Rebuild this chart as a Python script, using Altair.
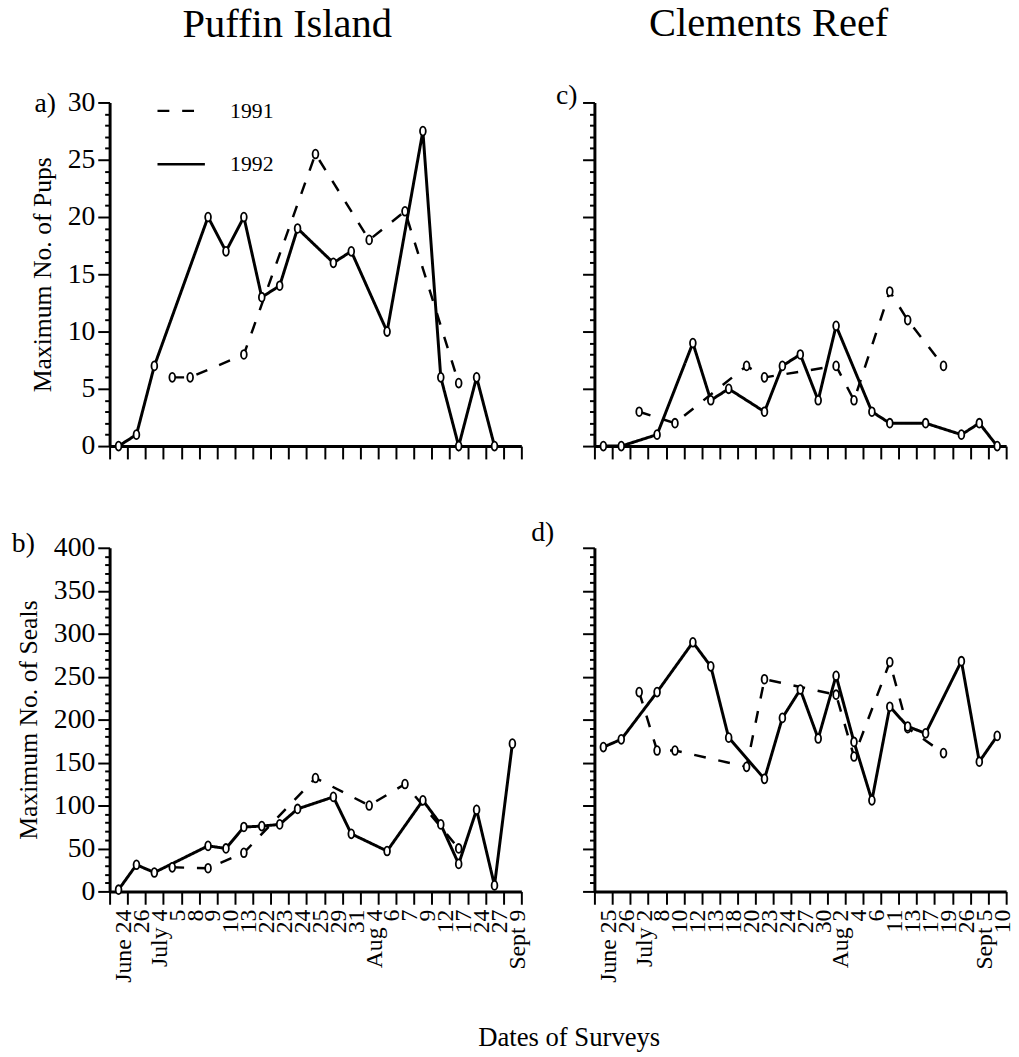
import altair as alt
import pandas as pd

SERIF = "Liberation Serif"

# Survey dates used as x tick labels, one list per site
puffin_dates = ["June 24", "26", "July 4", "5", "8", "9", "10", "13", "22", "23", "24",
                "25", "29", "31", "Aug 4", "6", "7", "9", "12", "17", "24", "27", "Sept 9"]
clements_dates = ["June 25", "26", "July 2", "8", "10", "12", "13", "18", "20", "23", "24",
                  "27", "30", "Aug 2", "4", "6", "11", "13", "17", "19", "26", "Sept 5", "10"]

# Puffin Island, maximum number of pups (survey index -> count)
puffin_pups_1991_idx = [3, 4, 7, 11, 14, 16, 19]
puffin_pups_1991 = [6, 6, 8, 25.5, 18, 20.5, 5.5]
puffin_pups_1992_idx = [0, 1, 2, 5, 6, 7, 8, 9, 10, 12, 13, 15, 17, 18, 19, 20, 21]
puffin_pups_1992 = [0, 1, 7, 20, 17, 20, 13, 14, 19, 16, 17, 10, 27.5, 6, 0, 6, 0]

# Puffin Island, maximum number of seals
puffin_seals_1991_idx = [3, 5, 7, 11, 14, 16, 19]
puffin_seals_1991 = [28, 27, 45, 132, 100, 125, 50]
puffin_seals_1992_idx = [0, 1, 2, 5, 6, 7, 8, 9, 10, 12, 13, 15, 17, 18, 19, 20, 21, 22]
puffin_seals_1992 = [2, 31, 22, 53, 50, 75, 76, 78, 96, 110, 67, 47, 106, 78, 32, 95, 7, 172]

# Clements Reef, maximum number of pups
clements_pups_1991_idx = [2, 4, 8, 9, 13, 14, 16, 17, 19]
clements_pups_1991 = [3, 2, 7, 6, 7, 4, 13.5, 11, 7]
clements_pups_1992_idx = [0, 1, 3, 5, 6, 7, 9, 10, 11, 12, 13, 15, 16, 18, 20, 21, 22]
clements_pups_1992 = [0, 0, 1, 9, 4, 5, 3, 7, 8, 4, 10.5, 3, 2, 2, 1, 2, 0]

# Clements Reef, maximum number of seals
clements_seals_1991_idx = [2, 3, 4, 8, 9, 13, 14, 16, 17, 19]
clements_seals_1991 = [232, 164, 164, 145, 247, 229, 157, 267, 190, 161]
clements_seals_1992_idx = [0, 1, 3, 5, 6, 7, 9, 10, 11, 12, 13, 14, 15, 16, 17, 18, 20, 21, 22]
clements_seals_1992 = [168, 177, 232, 290, 262, 179, 131, 202, 235, 178, 251, 174, 106, 215,
                       192, 184, 268, 151, 181]

years = ["1991", "1992"]

# vertical oval marker, like a small hand-drawn "0"
OVAL = "M0,-1 A0.65,1 0 1,1 0,1 A0.65,1 0 1,1 0,-1 Z"

W, H = 417, 348


def frame(idx91, v91, idx92, v92):
    rows = [{"i": i, "v": v, "year": "1991"} for i, v in zip(idx91, v91)]
    rows += [{"i": i, "v": v, "year": "1992"} for i, v in zip(idx92, v92)]
    return pd.DataFrame(rows)


def panel(df, dates, ymax, major, minor, letter, lx, ly,
          ytitle=None, xlabels=False, ylabels=True, legend=False):
    label_expr = "[" + ",".join("'%s'" % d for d in dates) + "][datum.value]"
    x = alt.X(
        "i:O",
        scale=alt.Scale(type="band", domain=list(range(len(dates))),
                        paddingInner=0, paddingOuter=0),
        axis=alt.Axis(title=None, labels=xlabels, labelExpr=label_expr,
                      labelAngle=-90, labelAlign="right", labelBaseline="middle",
                      tickBand="extent", tickSize=13, tickWidth=2,
                      domainWidth=3, labelPadding=5, labelOffset=5,
                      labelFont=SERIF, labelFontSize=24, grid=False),
    )
    y = alt.Y(
        "v:Q",
        scale=alt.Scale(domain=[0, ymax], nice=False, zero=True),
        axis=alt.Axis(
            title=ytitle, values=list(range(0, ymax + 1, minor)),
            labels=ylabels,
            labelExpr="datum.value %% %d === 0 ? datum.label : ''" % major,
            labelOverlap=False, labelFlush=False,
            tickSize={"condition": {"test": "datum.value %% %d === 0" % major, "value": 12},
                      "value": 5},
            tickWidth=2, domainWidth=3, labelPadding=3,
            labelFont=SERIF, labelFontSize=28,
            titleFont=SERIF, titleFontSize=26, titlePadding=12, grid=False,
        ),
    )
    if legend:
        leg = alt.Legend(orient="none", legendX=47, legendY=-17, title=None,
                         symbolType="stroke", symbolSize=2304, symbolStrokeWidth=2.5,
                         symbolStrokeColor="black", labelFont=SERIF, labelFontSize=22,
                         labelColor="black", labelOffset=24, rowPadding=17, padding=0)
    else:
        leg = None
    base = alt.Chart(df)
    lines = base.mark_line(color="black").encode(
        x=x, y=y,
        strokeDash=alt.StrokeDash("year:N",
                                  scale=alt.Scale(domain=years, range=[[12, 13], [1, 0]]),
                                  legend=leg),
        strokeWidth=alt.StrokeWidth("year:N",
                                    scale=alt.Scale(domain=years, range=[2.5, 3]),
                                    legend=None),
        order=alt.Order("i:Q"),
    )
    points = base.mark_point(shape=OVAL, size=81, filled=True, fill="white",
                             stroke="black", strokeWidth=1.8, opacity=1).encode(
        x=x, y=y, detail="year:N")
    tag = alt.Chart(pd.DataFrame({"t": [letter]})).mark_text(
        font=SERIF, fontSize=28, align="left", baseline="alphabetic", color="black"
    ).encode(x=alt.value(lx), y=alt.value(ly), text="t:N")
    return alt.layer(lines, points, tag).properties(width=W, height=H)


pa = panel(frame(puffin_pups_1991_idx, puffin_pups_1991, puffin_pups_1992_idx, puffin_pups_1992),
           puffin_dates, 30, 5, 1, "a)", -76, 10, ytitle="Maximum No. of Pups", legend=True)
pb = panel(frame(puffin_seals_1991_idx, puffin_seals_1991, puffin_seals_1992_idx, puffin_seals_1992),
           puffin_dates, 400, 50, 10, "b)", -99, 4, ytitle="Maximum No. of Seals", xlabels=True)
pc = panel(frame(clements_pups_1991_idx, clements_pups_1991, clements_pups_1992_idx, clements_pups_1992),
           clements_dates, 30, 5, 1, "c)", -39, 2, ylabels=False)
pd_ = panel(frame(clements_seals_1991_idx, clements_seals_1991, clements_seals_1992_idx, clements_seals_1992),
            clements_dates, 400, 50, 10, "d)", -64, -7, xlabels=True, ylabels=False)

left = alt.vconcat(
    pa, pb, spacing=103, bounds="flush",
    title=alt.TitleParams("Puffin Island", font=SERIF, fontSize=41, fontWeight="normal",
                          color="black", anchor="middle", offset=40, dx=17),
).resolve_legend(strokeDash="independent")
right = alt.vconcat(
    pc, pd_, spacing=103, bounds="flush",
    title=alt.TitleParams("Clements Reef", font=SERIF, fontSize=41, fontWeight="normal",
                          color="black", anchor="middle", offset=38, dx=-4),
).resolve_legend(strokeDash="independent")

chart = alt.hconcat(
    left, right, spacing=2,
    title=alt.TitleParams("Dates of Surveys", orient="bottom", anchor="middle",
                          font=SERIF, fontSize=27, fontWeight="normal", color="black",
                          baseline="top", offset=44, dx=57),
).resolve_legend(strokeDash="independent").properties(
    padding={"left": 12, "top": -3, "right": 5, "bottom": 5}
).configure_view(stroke=None).configure_axis(
    labelFont=SERIF, titleFont=SERIF, labelColor="black", titleColor="black",
    domainColor="black", tickColor="black", titleFontWeight="normal",
).configure_title(font=SERIF, color="black", fontWeight="normal")

chart.save("out.html", embed_options={"renderer": "svg", "actions": False})
